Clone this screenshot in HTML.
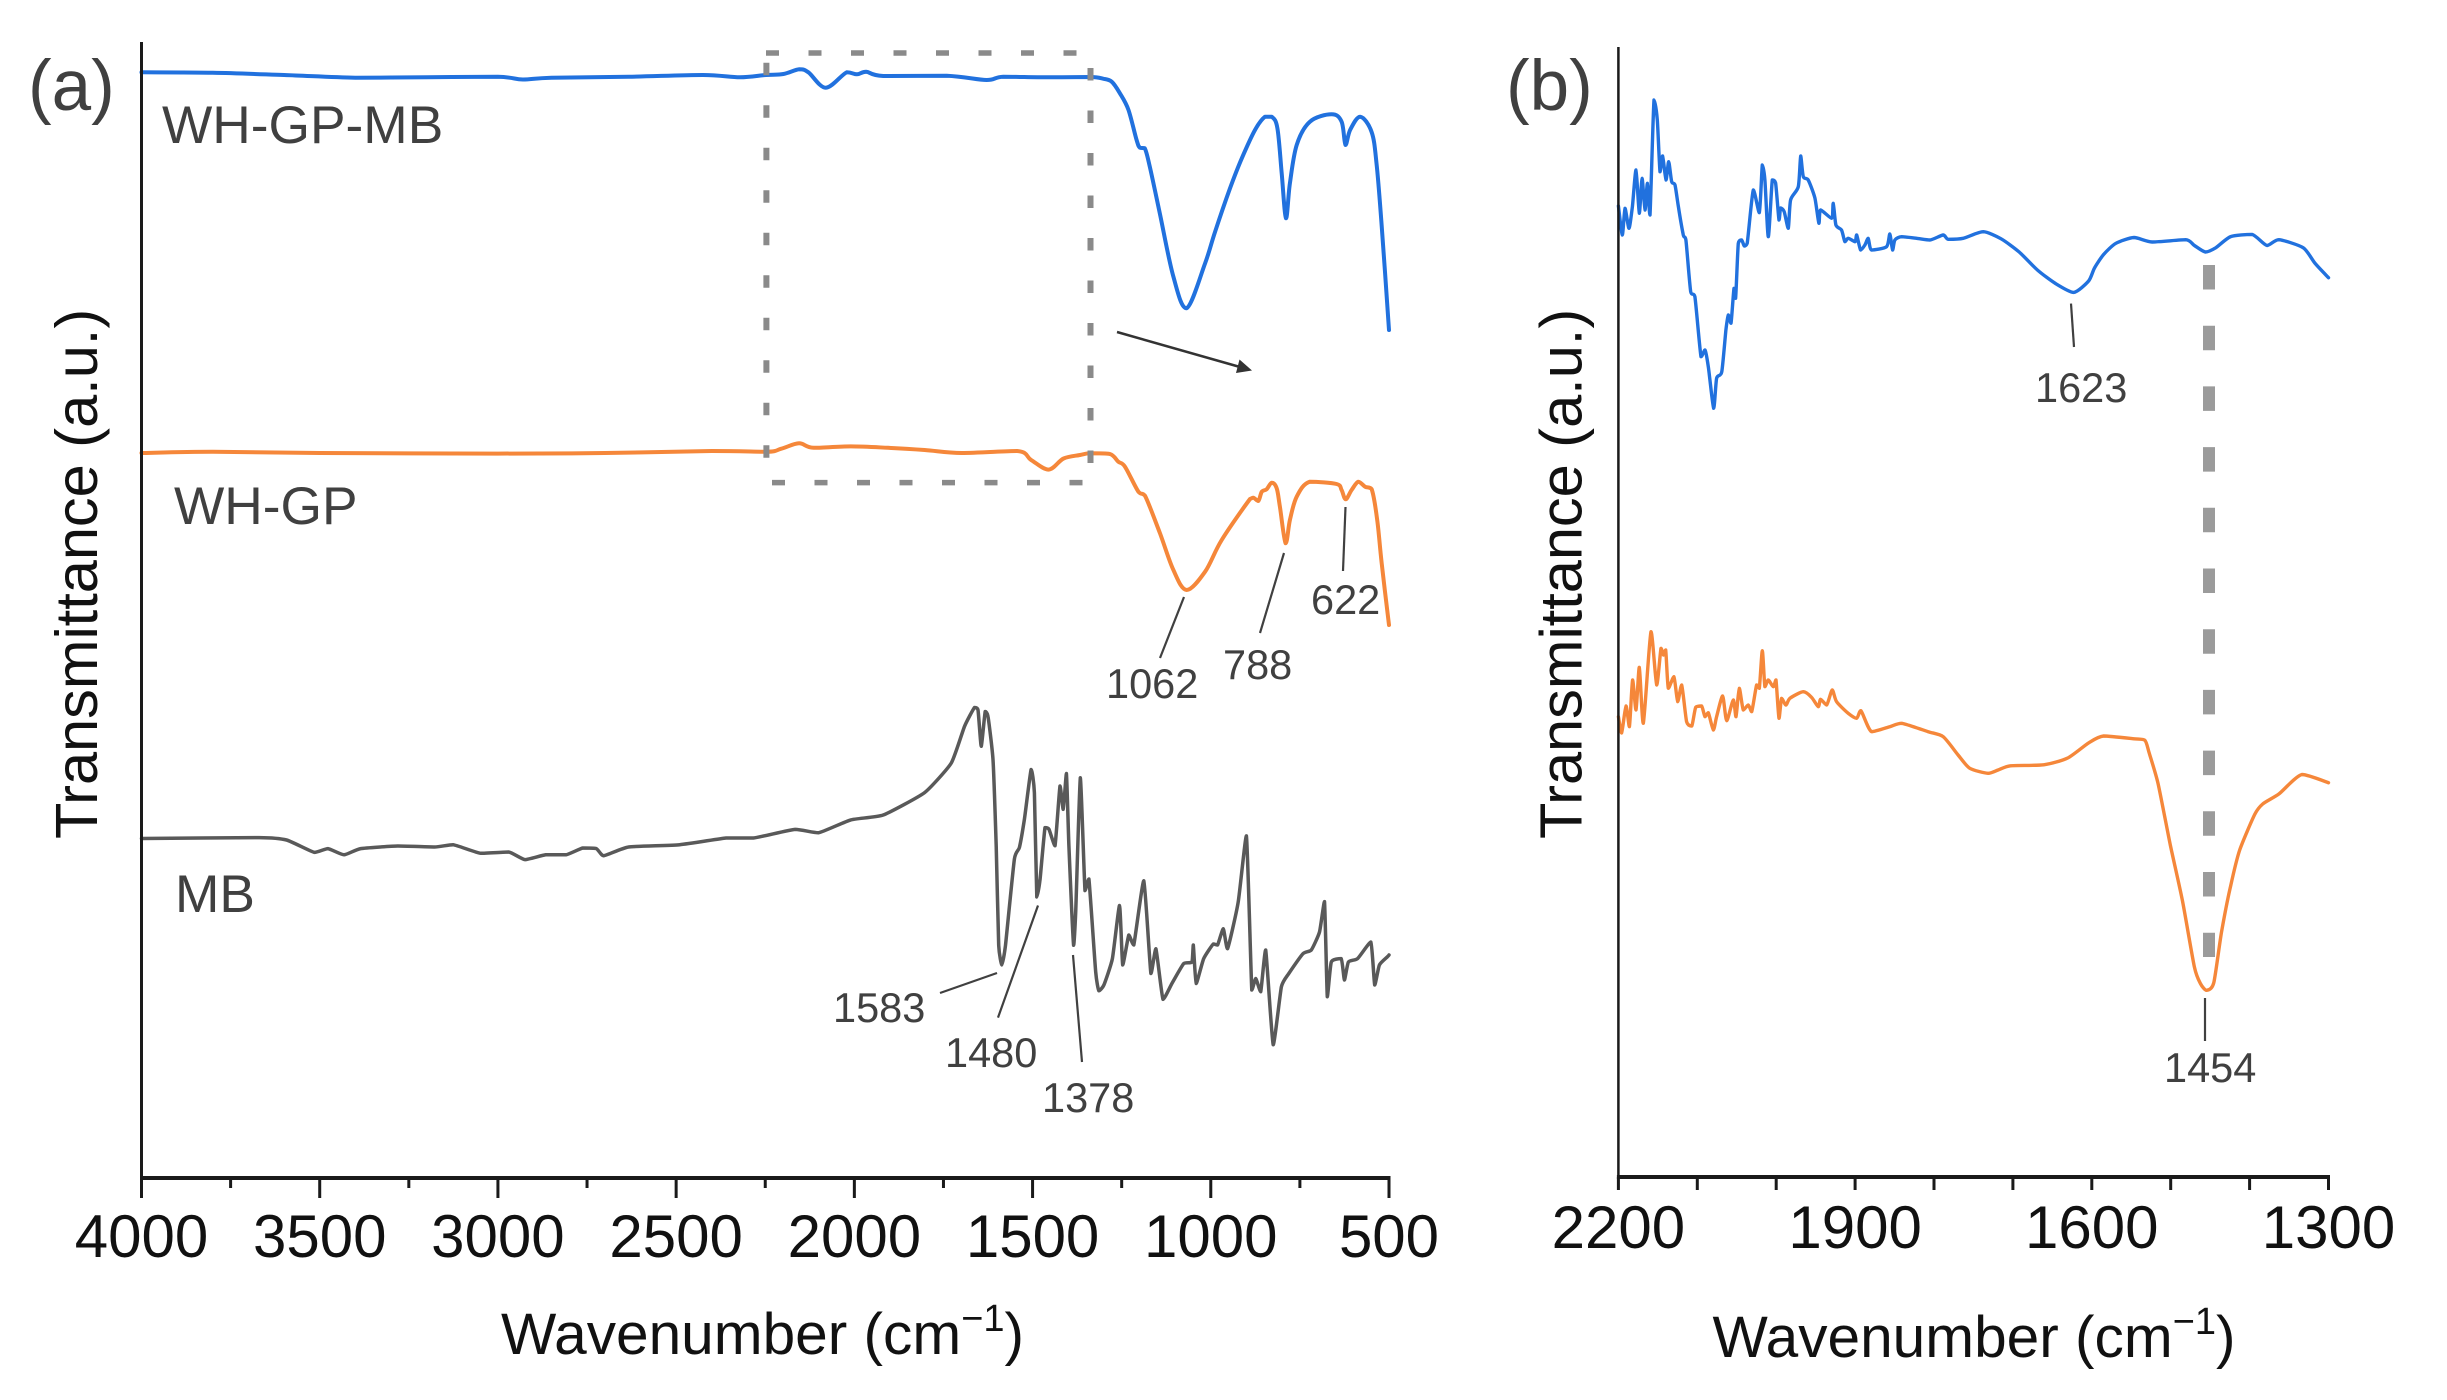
<!DOCTYPE html>
<html lang="en">
<head>
<meta charset="utf-8">
<title>FTIR spectra</title>
<style>
html,body{margin:0;padding:0;background:#fff;}
svg{display:block;font-family:"Liberation Sans",sans-serif;}
</style>
</head>
<body>
<svg id="figure" xmlns="http://www.w3.org/2000/svg" width="2447" height="1400" viewBox="0 0 2447 1400">
  <rect x="0" y="0" width="2447" height="1400" fill="#ffffff"/>

  <g id="panel-a">
    <g id="a-series"></g>
    <g id="a-axes"></g>
    <path d="M766.4 62.7V460" fill="none" stroke="#8a8a8a" stroke-width="6" stroke-dasharray="12.5 30"/>
    <path d="M1090.5 68V465" fill="none" stroke="#8a8a8a" stroke-width="6" stroke-dasharray="12.5 30"/>
    <path d="M766 53H1081" fill="none" stroke="#8a8a8a" stroke-width="5.5" stroke-dasharray="13 29.5"/>
    <path d="M772 482.6H1084" fill="none" stroke="#8a8a8a" stroke-width="5.5" stroke-dasharray="13 29.5"/>
    <line x1="1117" y1="332" x2="1240" y2="367" stroke="#333333" stroke-width="2.5"/>
    <polygon points="1252,370.5 1236,373 1239.5,359.5" fill="#333333"/>

    <text x="28" y="110" font-size="71" fill="#404040">(a)</text>
    <text transform="translate(97 839) rotate(-90)" font-size="59.5" fill="#111111">Transmittance (a.u.)</text>
    <text x="501" y="1354" font-size="58.6" fill="#111111">Wavenumber (cm<tspan font-size="38" dy="-23">−1</tspan><tspan dy="23">)</tspan></text>

    <text x="162" y="143" font-size="53.3" fill="#404040">WH-GP-MB</text>
    <text x="174" y="524" font-size="53.3" fill="#404040">WH-GP</text>
    <text x="175" y="912" font-size="53.3" fill="#404040">MB</text>

    <g font-size="41.5" fill="#404040">
      <text x="1106" y="698">1062</text>
      <text x="1223" y="679">788</text>
      <text x="1311" y="614">622</text>
      <text x="833" y="1022">1583</text>
      <text x="945" y="1067">1480</text>
      <text x="1042" y="1112">1378</text>
    </g>
    <g stroke="#404040" stroke-width="2.2" fill="none">
      <line x1="1184" y1="597" x2="1160" y2="658"/>
      <line x1="1284" y1="553" x2="1260" y2="633"/>
      <line x1="1345.5" y1="507" x2="1343" y2="571"/>
      <line x1="997" y1="973" x2="940" y2="993"/>
      <line x1="1038" y1="905.5" x2="998" y2="1017.6"/>
      <line x1="1073" y1="955" x2="1082" y2="1062"/>
    </g>
  </g>

  <g id="panel-b">
    <g id="b-series"></g>
    <g id="b-axes"></g>
    <path d="M2209 265V957" fill="none" stroke="#9b9b9b" stroke-width="12" stroke-dasharray="24.5 36.2"/>

    <text x="1506" y="110" font-size="71" fill="#404040">(b)</text>
    <text transform="translate(1581.5 839) rotate(-90)" font-size="59.5" fill="#111111">Transmittance (a.u.)</text>
    <text x="1712.5" y="1357" font-size="58.6" fill="#111111">Wavenumber (cm<tspan font-size="38" dy="-23">−1</tspan><tspan dy="23">)</tspan></text>

    <g font-size="41.5" fill="#404040">
      <text x="2035" y="402">1623</text>
      <text x="2164" y="1082">1454</text>
    </g>
    <g stroke="#404040" stroke-width="2.2" fill="none">
      <line x1="2071" y1="303.6" x2="2074" y2="347"/>
      <line x1="2205" y1="998" x2="2205" y2="1041"/>
    </g>
  </g>
</svg>

<script>
// Panel (a) tick values
const aMajorTicks = [4000, 3500, 3000, 2500, 2000, 1500, 1000, 500];
const aMinorTicks = [3750, 3250, 2750, 2250, 1750, 1250, 750];
// Panel (b) tick values
const bMajorTicks = [2200, 1900, 1600, 1300];
const bMinorTicks = [2100, 2000, 1800, 1700, 1500, 1400];

// Panel (a) WH-GP-MB
const aBlueWavenumber = [4000,3800,3600,3400,3200,3000,2930,2850,2633,2425,2321,2248,2199,2154.5,2129,2080,2021.5,1993,1967,1919,1741,1629,1582,1460,1339,1302,1278,1255,1231,1208,1199,1185,1171,1143,1105,1068,1016,988,946,913,876,848,829,813,801,789,778,759,722,661,633,622,609,581,549,535,521,500];
const aBlueTransmittance = [1105.7,1105.2,1103,1100.3,1100.8,1101.2,1098.5,1100.3,1101.2,1103,1100.7,1103,1104,1108.7,1105.7,1090.3,1105.7,1103.7,1106.3,1102,1102.3,1098,1101.3,1100.7,1101,1099.3,1096.3,1084.7,1068,1038,1030.3,1029.7,1011.3,964.7,901.3,869.7,914.7,946.3,989.7,1019.7,1048,1061.3,1061.3,1049.7,1004.7,959.7,994.7,1033,1056.3,1063.7,1056.3,1033,1048,1061.3,1046.3,1014.7,954.7,848];

// Panel (a) WH-GP
const aOrangeWavenumber = [4000,3800,3500,3000,2700,2400,2246,2205,2155,2114,2010,1906,1803,1699,1543,1504,1455,1413,1367,1339,1283,1259.5,1240.8,1203,1184.6,1142.6,1105,1067.7,1016,969.5,890,880.7,866.7,857,843.3,829,815,806,790,778,759,722,647,633,621.6,605,586,567,548.7,533,520.6,500];
const aOrangeTransmittance = [725,726.2,725,724.4,725,727,726.2,729.3,734.7,730.2,731.6,730.2,728,725,727,718,708.4,719.5,723,724.7,724,716.3,711.3,686.3,682.3,644.7,608,588,606.3,638,679,680.3,677,686.3,688.7,695.3,689.7,671.3,634.7,658,681.3,696.3,694,688,678.7,688,696.3,691.3,689,658,614.7,553];

// Panel (a) MB
const aGrayWavenumber = [4000,3670,3593,3515,3477,3432,3385,3281,3178,3126,3048,2970,2924,2866,2809,2762,2724,2703,2633,2490,2360,2283,2166,2101,2010,1919,1803,1728,1691,1663,1653,1644,1633,1625,1611,1602,1595,1586,1576,1551,1537,1523,1504,1495,1488,1479,1465,1454,1437,1423,1414,1405,1398,1385,1379,1366,1353,1342,1323,1314,1300,1276,1256,1247,1230,1216,1188,1168,1154,1134,1109,1076,1053,1049,1041,1020,993,981,965,953,923,900,885,874,860,846,825,802,781,741,718,695,681,673,662,634,625,614,588,551,540,527,505,500];
const aGrayTransmittance = [339.5,340.4,338,325.6,329.4,323.2,329.4,332,331,333.3,324.7,326,318.4,323.2,323.2,330,329.4,322.3,331,333.3,340,340,348.6,345.2,358.1,363,385.4,415,451.6,470.5,468,431.7,466.5,461.5,418.4,332.2,232.7,213,232.7,319,330.5,358.7,408.5,385.2,281,299,350.4,348.7,332.2,392,368.6,404.5,332.2,232.7,266,400.2,287.4,299,206.1,187.2,193,219.4,272.5,213,243,233,297.3,204.5,229.3,178.6,194.5,214.4,216,233,194.5,219.4,234,233,249.2,229.3,276,342.1,188,199.5,186.2,228,133.2,191.2,204.5,224.4,228,246,276.4,181.3,216,219.4,198,216,219.4,236,193,213,221,223];

// Panel (b) WH-GP-MB
const bBlueWavenumber = [2200,2195,2191.6,2186.6,2182.3,2177.7,2173.5,2170,2166.3,2163.3,2160,2154.9,2150.7,2147.3,2144,2139.7,2136.3,2132.5,2128.3,2124,2117.7,2114.4,2108.4,2103,2095.3,2090.3,2086,2079.3,2075.5,2069,2063.7,2060.7,2057.3,2053.5,2051.4,2048,2043.8,2040.4,2036.7,2029,2021.4,2017.6,2014.3,2010,2005,2000.8,1996.5,1994.4,1989.8,1984.7,1981.8,1972,1969,1965.7,1959.4,1951,1945.9,1943.7,1929.8,1927.7,1924.3,1917.2,1912.9,1908.7,1900,1898,1893,1887.6,1883.4,1879.2,1860.1,1856,1852.5,1849.6,1841,1822,1805,1788.3,1782,1763,1737.7,1715,1692,1669,1646,1623,1604,1596.6,1585,1569.5,1546.5,1523.5,1481,1470,1456,1443,1424,1397,1378,1363,1332,1317,1300];
const bBlueTransmittance = [971,942,968.7,948.7,970.3,1007,963.7,998.7,967,993.7,962,1077,1057,1005.3,1021,997,1015.3,995.3,992,970.3,942,937,885.3,880.3,820.3,827,810.3,768.7,798.7,805.3,847,862,853.7,888.7,878.7,933.7,937,931,933.7,987,964.3,1012,997,940.3,997,994,957,969,965.3,948.7,977,990.3,1021,1000.3,997,979,953.7,967,958.7,973.7,952,947,935.3,938.7,935.3,942,927,932,938.7,927,930.3,943,927,937,940.3,938.7,937,942,937.7,938.7,945.3,938.2,925,907,893.5,884.6,896,909,922.5,933.7,939.5,935,937.3,931.5,925,929.2,940.4,942.6,931.5,937.3,929.2,913.6,899.3];

// Panel (b) WH-GP
const bOrangeWavenumber = [2200,2195.9,2190.4,2186,2182,2177.7,2173.5,2168.4,2158.7,2151.5,2146,2143,2140,2136.7,2129.6,2124.9,2119.8,2113.5,2107,2102,2094.5,2090.3,2086,2079.7,2075.5,2067.9,2062.8,2054.4,2051,2046.8,2041.7,2035.4,2031,2024.8,2021.4,2017.6,2014.3,2010,2003.7,2000.3,1996.5,1993.2,1987.7,1982.6,1965.7,1955.2,1946.7,1943.7,1936,1929,1923.5,1908.7,1898.1,1892.6,1879.2,1856,1841,1807.4,1788.3,1769.4,1754.6,1731.4,1718.7,1703,1661,1630.6,1604,1585,1546.5,1532.7,1527.3,1516,1500.5,1485,1470,1462.2,1454.6,1445.4,1435.5,1424,1412.5,1393.4,1383.4,1362.8,1333.7,1300];
const bOrangeTransmittance = [460.3,444,471,450.3,497,467,509.7,453.7,545.3,492,528.7,522,527,488.7,500.3,475.3,492,455.3,451,469.7,471,460.3,464.3,447,460.3,481,456.3,477,460.3,488.7,467,472,465.3,492,488.7,526.3,490.3,497,490.3,497,458.7,478.7,472,478.7,485.3,479.7,470.3,477.7,472,487,475.3,463.7,458.7,466.3,445.3,450.3,453.7,445.3,440.3,422,408.7,403.7,407,411.2,412.2,419,434.1,441,438.2,436.7,424,393.3,332,276,210,193.3,186.7,194.3,245.4,291.3,327,362.7,373,383.1,402.5,394.3];

const SVG_NS = 'http://www.w3.org/2000/svg';

function linearScale(d0, d1, r0, r1) {
  return function (v) { return r0 + (v - d0) / (d1 - d0) * (r1 - r0); };
}

const aX = linearScale(4000, 500, 141.5, 1389);
const aY = linearScale(0, 1136, 1178, 42);
const bX = linearScale(2200, 1300, 1618.4, 2328.5);
const bY = linearScale(0, 1130, 1177, 47);

function clamp(v, a, b) {
  return Math.max(Math.min(a, b), Math.min(Math.max(a, b), v));
}

// Smooth curve through the points; control points stay inside each segment's box so peaks keep their height.
function curvePath(xs, ys, xScale, yScale, k) {
  const n = Math.min(xs.length, ys.length);
  const px = [];
  const py = [];
  for (let i = 0; i < n; i++) {
    px.push(xScale(xs[i]));
    py.push(yScale(ys[i]));
  }
  let d = 'M' + px[0].toFixed(1) + ' ' + py[0].toFixed(1);
  for (let i = 0; i < n - 1; i++) {
    const p = Math.max(i - 1, 0);
    const q = Math.min(i + 2, n - 1);
    const c1x = clamp(px[i] + (px[i + 1] - px[p]) * k / 6, px[i], px[i + 1]);
    const c1y = clamp(py[i] + (py[i + 1] - py[p]) * k / 6, py[i], py[i + 1]);
    const c2x = clamp(px[i + 1] - (px[q] - px[i]) * k / 6, px[i], px[i + 1]);
    const c2y = clamp(py[i + 1] - (py[q] - py[i]) * k / 6, py[i], py[i + 1]);
    d += 'C' + c1x.toFixed(1) + ' ' + c1y.toFixed(1) + ' ' + c2x.toFixed(1) + ' ' + c2y.toFixed(1) + ' ' + px[i + 1].toFixed(1) + ' ' + py[i + 1].toFixed(1);
  }
  return d;
}

function drawSeries(parentId, name, xs, ys, xScale, yScale, color, width, k) {
  const p = document.createElementNS(SVG_NS, 'path');
  
  
  p.setAttribute('d', curvePath(xs, ys, xScale, yScale, k));
  p.setAttribute('fill', 'none');
  p.setAttribute('stroke', color);
  p.setAttribute('stroke-width', width);
  p.setAttribute('stroke-linejoin', 'round');
  p.setAttribute('stroke-linecap', 'round');
  document.getElementById(parentId).appendChild(p);
}

function drawLine(parent, name, x1, y1, x2, y2, color, width) {
  const l = document.createElementNS(SVG_NS, 'line');
  
  
  l.setAttribute('x1', x1);
  l.setAttribute('y1', y1);
  l.setAttribute('x2', x2);
  l.setAttribute('y2', y2);
  l.setAttribute('stroke', color);
  l.setAttribute('stroke-width', width);
  parent.appendChild(l);
}

function drawAxes(parentId, prefix, xScale, yScale, yMax, dom, majors, minors, majorLen, minorLen, labelY, yWidth, xWidth) {
  const g = document.getElementById(parentId);
  const y0 = yScale(0);
  const left = xScale(dom[0]);
  const right = xScale(dom[1]);
  drawLine(g, prefix + '-y-axis-line', left, yScale(yMax), left, y0 + 2, '#1a1a1a', yWidth);
  drawLine(g, prefix + '-x-axis-line', left - 1.5, y0, right + 1.5, y0, '#1a1a1a', xWidth);
  majors.forEach(function (t) {
    drawLine(g, prefix + '-major-tick-' + t, xScale(t), y0, xScale(t), y0 + majorLen, '#1a1a1a', 3);
    const label = document.createElementNS(SVG_NS, 'text');
    
    
    label.setAttribute('x', xScale(t));
    label.setAttribute('y', labelY);
    label.setAttribute('text-anchor', 'middle');
    label.setAttribute('font-size', '60');
    label.setAttribute('fill', '#111111');
    label.textContent = t;
    g.appendChild(label);
  });
  minors.forEach(function (t) {
    drawLine(g, prefix + '-minor-tick-' + t, xScale(t), y0, xScale(t), y0 + minorLen, '#1a1a1a', 3);
  });
}

drawSeries('a-series', 'series-a-wh-gp-mb', aBlueWavenumber, aBlueTransmittance, aX, aY, '#2171de', 4, 1);
drawSeries('a-series', 'series-a-wh-gp', aOrangeWavenumber, aOrangeTransmittance, aX, aY, '#f5873a', 4, 1);
drawSeries('a-series', 'series-a-mb', aGrayWavenumber, aGrayTransmittance, aX, aY, '#595959', 3.5, 0.5);
drawSeries('b-series', 'series-b-wh-gp-mb', bBlueWavenumber, bBlueTransmittance, bX, bY, '#2171de', 3.4, 0.7);
drawSeries('b-series', 'series-b-wh-gp', bOrangeWavenumber, bOrangeTransmittance, bX, bY, '#f5873a', 3.4, 0.7);

drawAxes('a-axes', 'panel-a', aX, aY, 1136, [4000, 500], aMajorTicks, aMinorTicks, 20, 10, 1257, 3, 4);
drawAxes('b-axes', 'panel-b', bX, bY, 1130, [2200, 1300], bMajorTicks, bMinorTicks, 13, 13, 1248, 2.5, 4);
</script>
</body>
</html>
